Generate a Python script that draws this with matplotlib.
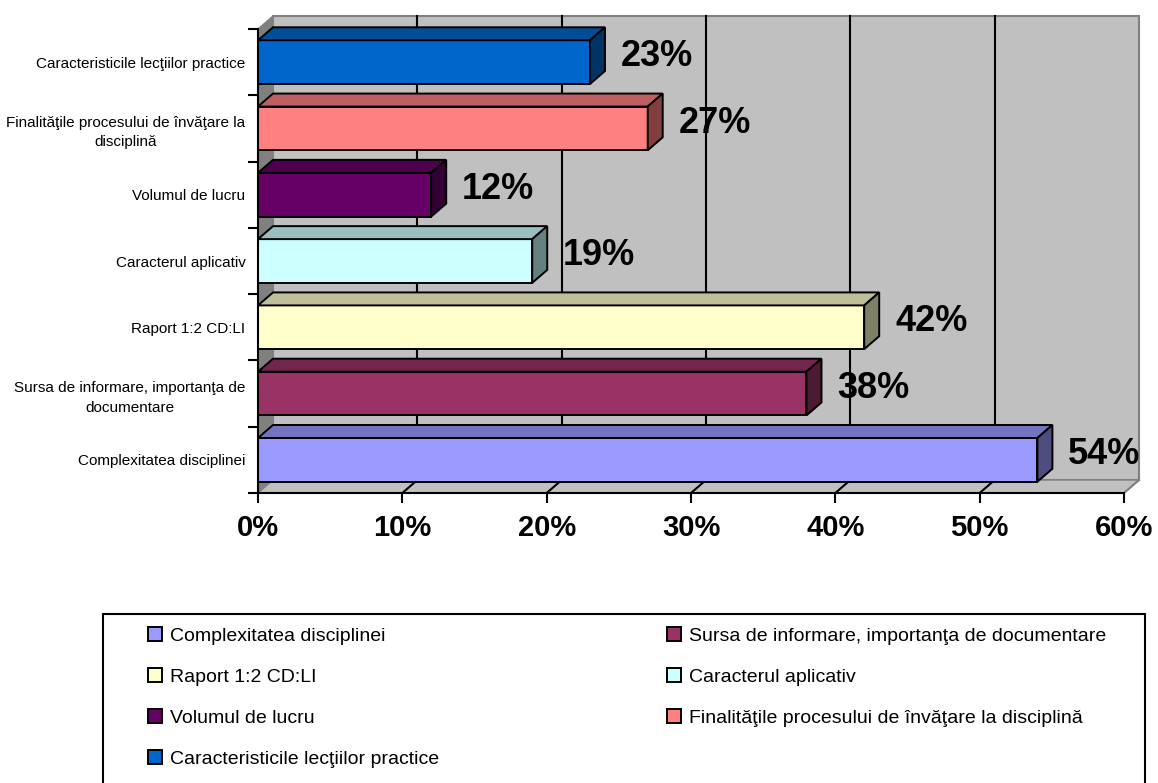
import numpy as np
import matplotlib
matplotlib.use("Agg")
import matplotlib.pyplot as plt
from matplotlib.patches import Polygon, Rectangle, Patch
from matplotlib.colors import to_rgb

# categories listed bottom to top, as drawn on the y axis
categories = [
    "Complexitatea disciplinei",
    "Sursa de informare, importanţa de\ndocumentare",
    "Raport 1:2 CD:LI",
    "Caracterul aplicativ",
    "Volumul de lucru",
    "Finalităţile procesului de învăţare la\ndisciplină",
    "Caracteristicile lecţiilor practice",
]
legend_names = [
    "Complexitatea disciplinei",
    "Sursa de informare, importanţa de documentare",
    "Raport 1:2 CD:LI",
    "Caracterul aplicativ",
    "Volumul de lucru",
    "Finalităţile procesului de învăţare la disciplină",
    "Caracteristicile lecţiilor practice",
]
values = [54, 38, 42, 19, 12, 27, 23]
colors = ["#9999FF", "#993366", "#FFFFCC", "#CCFFFF", "#660066", "#FF8080", "#0066CC"]
xticks = [0, 10, 20, 30, 40, 50, 60]

plt.rcParams["font.family"] = ["Liberation Sans", "DejaVu Sans"]

W, H = 1158, 783
fig = plt.figure(figsize=(W / 100, H / 100), dpi=100)
ax = fig.add_axes([258 / W, 1 - 493 / H, (1124 - 258) / W, (493 - 29) / H])
ax.set_xlim(0, 60)
ax.set_ylim(-0.5, len(categories) - 0.5)
ax.set_facecolor("none")

# 3-D depth offset in data units
dx, dy = 1.04, 0.196
y0, y1 = -0.5, len(categories) - 0.5
xmax = xticks[-1]
wall = "#C0C0C0"
edge = "#808080"

# back wall, left wall and floor
ax.add_patch(Rectangle((dx, y0 + dy), xmax, y1 - y0, fc=wall, ec=edge, lw=1.5,
                       clip_on=False, zorder=0))
ax.add_patch(Polygon([(0, y0), (dx, y0 + dy), (dx, y1 + dy), (0, y1)],
                     fc=edge, ec=edge, lw=1.0, clip_on=False, zorder=0.5))
ax.add_patch(Polygon([(0, y0), (xmax, y0), (xmax + dx, y0 + dy), (dx, y0 + dy)],
                     fc=wall, ec=edge, lw=1.0, clip_on=False, zorder=0.5))
for xv in xticks[1:-1]:
    ax.plot([xv + dx, xv + dx], [y0 + dy, y1 + dy], color="black", lw=1.5,
            clip_on=False, zorder=1)
for xv in xticks[1:]:
    ax.plot([xv, xv + dx], [y0, y0 + dy], color="black" if xv < xmax else edge,
            lw=1.5, clip_on=False, zorder=1)


def shade(c, f):
    return tuple(v * f for v in to_rgb(c))


h = 0.33
for i, (v, c) in enumerate(zip(values, colors)):
    front = Rectangle((0, i - h), v, 2 * h)
    top = Polygon([(0, i + h), (v, i + h), (v + dx, i + h + dy), (dx, i + h + dy)])
    side = Polygon([(v, i - h), (v + dx, i - h + dy), (v + dx, i + h + dy), (v, i + h)])
    for p, f in ((front, 1.0), (top, 0.75), (side, 0.5)):
        p.set_facecolor(shade(c, f))
        p.set_edgecolor("black")
        p.set_linewidth(1.4)
        p.set_joinstyle("miter")
        p.set_clip_on(False)
        p.set_zorder(3)
        ax.add_patch(p)
    ax.text(v + dx + 1.1, i + 0.08, f"{v}%", fontsize=26, fontweight="bold",
            ha="left", va="center", zorder=4)

for s in ("top", "right"):
    ax.spines[s].set_visible(False)
for s in ("left", "bottom"):
    ax.spines[s].set_linewidth(1.5)
    ax.spines[s].set_zorder(5)

ax.set_xticks(xticks)
ax.set_xticklabels([f"{t}%" for t in xticks], fontsize=21, fontweight="bold")
ax.tick_params(axis="x", length=7, width=1.5, pad=8)

ax.set_yticks(np.arange(y0, y1 + 0.01, 1.0))
ax.set_yticklabels([])
ax.set_yticks(np.arange(len(categories)), minor=True)
ax.set_yticklabels(categories, minor=True, fontsize=11)
ax.tick_params(axis="y", which="major", length=7, width=1.5)
ax.tick_params(axis="y", which="minor", length=0, pad=9)
for lab in ax.get_yticklabels(minor=True):
    lab.set_multialignment("center")
    lab.set_linespacing(1.5)

# legend box with two columns
fig.patches.append(Rectangle((103 / W, -0.01), (1145 - 103) / W, 1.01 - 614 / H,
                             transform=fig.transFigure, fc="white", ec="black",
                             lw=1.5))
order = [0, 2, 4, 6, 1, 3, 5]
handles = [Patch(fc=colors[k], ec="black", lw=1.4) for k in order]
fig.legend(handles, [legend_names[k] for k in order], ncol=2,
           loc="upper left", bbox_to_anchor=(148 / W, 1 - 627 / H),
           frameon=False, borderpad=0, borderaxespad=0,
           handlelength=0.72, handleheight=0.72, handletextpad=0.4,
           labelspacing=1.2, columnspacing=11.75,
           prop={"size": 14})

fig.savefig("out.png", dpi=100)
